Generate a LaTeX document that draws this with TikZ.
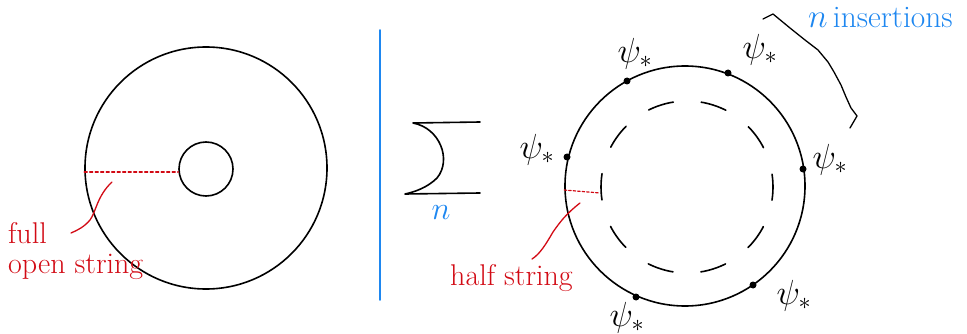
\documentclass[tikz,border=0pt]{standalone}
\usetikzlibrary{calc}
\definecolor{inkred}{RGB}{210,10,20}
\definecolor{inkblue}{RGB}{30,135,240}
\newcommand{\psistar}{\scalebox{1.4}{$\psi_*$}}
\begin{document}
\begin{tikzpicture}[x=1pt,y=-1pt,line cap=round,line join=round,
  ink/.style={line width=1.6pt,black},
  redink/.style={line width=1.3pt,inkred},
  redstr/.style={line width=1.4pt,inkred,dash pattern=on 3pt off 2.5pt},
  insdot/.style={circle,fill=black,inner sep=0pt,minimum size=7pt},
  psilab/.style={inner sep=0pt,font=\fontsize{24}{28}\selectfont},
  redtext/.style={inkred,inner sep=0pt,align=left,font=\fontsize{30}{36}\selectfont},
  bluetext/.style={inkblue,inner sep=0pt,font=\fontsize{28}{32}\selectfont}]
\useasboundingbox (0,0) rectangle (967,334);
% left annulus
\node[ink,draw,circle,minimum size=242pt,inner sep=0pt] (outer) at (206,168) {};
\node[ink,draw,circle,minimum size=54pt,inner sep=0pt] (inner) at (206,169) {};
\draw[redstr] (outer.west |- 0,172) -- (inner.west |- 0,172);
\coordinate (fa) at (112,182);
\node[redtext,anchor=north west] (full) at (8,222) {full\\[-6pt]open string};
\draw[redink] (fa) .. controls (97,196) and (96,212) .. (90,220) .. controls (84,227) and (78,230) .. (71,233);
% separator
\coordinate (sepT) at (380,30);
\coordinate (sepB) at (380,300);
\draw[inkblue,line width=1.6pt] (sepT) -- (sepB);
% sum
\coordinate (s1) at (480,122);
\coordinate (s2) at (413,123);
\coordinate (s3) at (405,194);
\coordinate (s4) at (480,193);
\draw[ink] (s1) -- (s2) .. controls (440,128) and (452,160) .. (437,178) .. controls (427,188) and (414,192) .. (s3) -- (s4);
\node[bluetext] (nsum) at (441,213) {\scalebox{1.3}{$n$}};
% right disk
\node[ink,draw,circle,minimum size=240pt,inner sep=0pt] (disk) at (685,186) {};
\draw[line width=1.6pt,dash pattern=on 26pt off 28pt,dash phase=13pt] (687,187) ++(0:-86) arc[start angle=180,end angle=-180,radius=86];
\draw[redstr,line width=1.2pt,dash pattern=on 2.5pt off 2pt] (disk.west |- 0,190) -- (600,193);
\coordinate (ha) at (580,203);
\draw[redink] (ha) .. controls (566,214) and (560,222) .. (553,232) .. controls (546,244) and (540,254) .. (532,259);
\node[redtext,anchor=north west] (half) at (450,264) {half string};
% insertions
\node[insdot] (d1) at (627,81) {};
\node[insdot] (d2) at (728,73) {};
\node[insdot] (d3) at (567,157) {};
\node[insdot] (d4) at (803,169) {};
\node[insdot] (d5) at (636,297) {};
\node[insdot] (d6) at (753,285) {};
\node[psilab] (p1) at (635,54) {\psistar};
\node[psilab] (p2) at (760,50) {\psistar};
\node[psilab] (p3) at (537,150) {\psistar};
\node[psilab] (p4) at (830,160) {\psistar};
\node[psilab] (p5) at (627,318) {\psistar};
\node[psilab] (p6) at (794,296) {\psistar};
% brace
\coordinate (b0) at (763,19);
\coordinate (b1) at (850,128);
\draw[line width=1.3pt] (b0) -- (773,14) -- (790,28) -- (805,40) -- (818,50) -- (828,62) -- (834,72) -- (841,85) -- (846,97) -- (851,108) -- (857,116) -- (b1);
\node[bluetext,anchor=base west] (ins) at (808,28) {\scalebox{1.12}{\scalebox{1.2}{$n$}\,insertions}};
\end{tikzpicture}
\end{document}
